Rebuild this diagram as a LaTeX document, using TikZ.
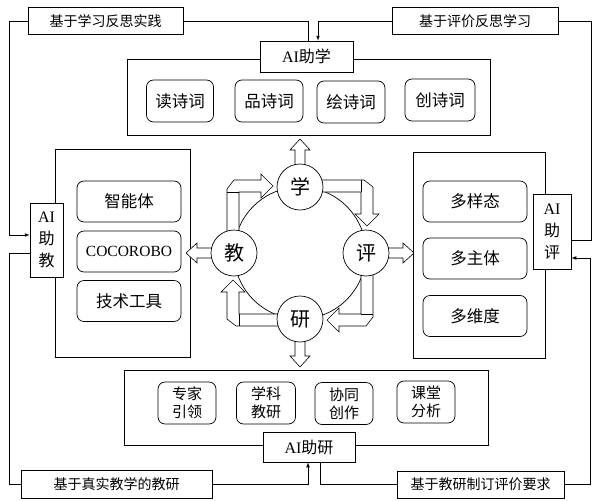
\documentclass[tikz,border=0pt]{standalone}
\usepackage{fontspec}
\setmainfont{Liberation Serif}
\newfontfamily\cjk{Noto Sans CJK SC}
\usetikzlibrary{calc}

\begin{document}
\begin{tikzpicture}[x=1pt,y=-1pt,>=latex,line width=0.7pt,
  frame/.style={draw,minimum width=#1,inner sep=0pt},
  tag/.style={draw,fill=white,inner sep=0pt,font=\cjk\fontsize{14}{16}\selectfont},
  ailabel/.style={draw,fill=white,inner sep=0pt,align=center,font=\fontsize{16}{22}\selectfont},
  item/.style={draw,rounded corners=7pt,inner sep=0pt,align=center,font=\cjk\fontsize{16.5}{18}\selectfont},
  hub/.style={draw,circle,fill=white,minimum size=46pt,inner sep=0pt,font=\cjk\fontsize{20}{20}\selectfont},
  block/.style={draw,fill=white,line width=0.6pt}]
\useasboundingbox (0,0) rectangle (595,501);

% the four areas
\node[frame=363pt,minimum height=76pt] (top) at (308.5,97) {};
\node[frame=135pt,minimum height=208pt] (left) at (122.5,253) {};
\node[frame=132pt,minimum height=206pt] (right) at (479,255) {};
\node[frame=364pt,minimum height=75pt] (bottom) at (306,407.5) {};

% AI labels
\node[ailabel,minimum width=93pt,minimum height=31pt] (xue) at (306.5,56.5) {AI{\cjk 助学}};
\node[ailabel,minimum width=33pt,minimum height=74pt] (jiao) at (46.5,240) {AI\\{\cjk 助}\\{\cjk 教}};
\node[ailabel,minimum width=38pt,minimum height=75pt] (ping) at (552,231.5) {AI\\{\cjk 助}\\{\cjk 评}};
\node[ailabel,minimum width=92pt,minimum height=30pt] (yan) at (309,447) {AI{\cjk 助研}};

% inner items
\node[item,minimum width=67pt,minimum height=42pt] (du) at (180,101) {读诗词};
\node[item,minimum width=68pt,minimum height=42pt] (pin) at (269,101) {品诗词};
\node[item,minimum width=68pt,minimum height=42pt] (hui) at (351,102) {绘诗词};
\node[item,minimum width=70pt,minimum height=42pt] (chuang) at (440,100) {创诗词};

\node[item,minimum width=104pt,minimum height=41pt] (agent) at (129,201.5) {智能体};
\node[item,minimum width=104pt,minimum height=41pt,font=\fontsize{15.5}{18}\selectfont] (robo) at (129,251.5) {COCOROBO};
\node[item,minimum width=104pt,minimum height=41pt] (tool) at (129,301) {技术工具};

\node[item,minimum width=104pt,minimum height=41pt] (mode) at (475,201.5) {多样态};
\node[item,minimum width=104pt,minimum height=41pt] (subj) at (475,258.5) {多主体};
\node[item,minimum width=104pt,minimum height=41pt] (dim) at (475,316) {多维度};

\node[item,minimum width=58pt,minimum height=42pt,font=\cjk\fontsize{15}{18}\selectfont] (expert) at (187,403) {专家\\引领};
\node[item,minimum width=59pt,minimum height=42pt,font=\cjk\fontsize{15}{18}\selectfont] (subject) at (266,403) {学科\\教研};
\node[item,minimum width=58pt,minimum height=42pt,font=\cjk\fontsize{15}{18}\selectfont] (cowork) at (344,403.5) {协同\\创作};
\node[item,minimum width=58pt,minimum height=42pt,font=\cjk\fontsize{15}{18}\selectfont] (class) at (426,402) {课堂\\分析};

% centre cycle
\draw (300,253) circle (66pt);
\foreach \a in {0,-90,-180,-270} {
  \begin{scope}[shift={(300,253)},rotate=\a]
    \draw[block] (-5,-80) -- (-5,-103) -- (-10,-103) -- (0,-114) -- (10,-103) -- (5,-103) -- (5,-80) -- cycle;
    \draw[block] (-73,-10) -- (-73,-64) -- (-66,-73) -- (-39,-73) -- (-39,-79) -- (-27,-67)
      -- (-39,-55) -- (-39,-61) -- (-61,-61) -- (-61,-10) -- cycle;
    \draw[line width=0.6pt] (-73,-61) -- (-61,-61);
  \end{scope}
}
\node[hub] (c1) at (300,187) {学};
\node[hub] (c2) at (366,253) {评};
\node[hub] (c3) at (300,319) {研};
\node[hub] (c4) at (234,253) {教};

% feedback loop
\node[tag,minimum width=155pt,minimum height=27pt] (fa) at (105.5,21) {基于学习反思实践};
\node[tag,minimum width=166pt,minimum height=27pt] (fb) at (475,21) {基于评价反思学习};
\node[tag,minimum width=191pt,minimum height=28pt] (fc) at (116.5,484) {基于真实教学的教研};
\node[tag,minimum width=167pt,minimum height=27pt] (fd) at (480.5,484.5) {基于教研制订评价要求};

\draw (fa.east) -| ($(xue.north)+(1.5,0)$);
\draw[->] (fa.west) -- ++(-18,0) |- ($(jiao.west)+(0,-5)$);
\draw[->] (fb.west) -| ($(xue.north)+(11.5,0)$);
\draw (fb.east) -- ++(33,0) |- ($(ping.east)+(0,8.5)$);
\draw (fc.west) -- ++(-11,0) |- ($(jiao.west)+(0,13)$);
\draw[->] (fc.east) -| ($(yan.south)+(-1,0)$);
\draw (fd.west) -| ($(yan.south)+(11,0)$);
\draw[->] (fd.east) -- ++(26,0) |- ($(ping.east)+(0,26.5)$);
\end{tikzpicture}
\end{document}
